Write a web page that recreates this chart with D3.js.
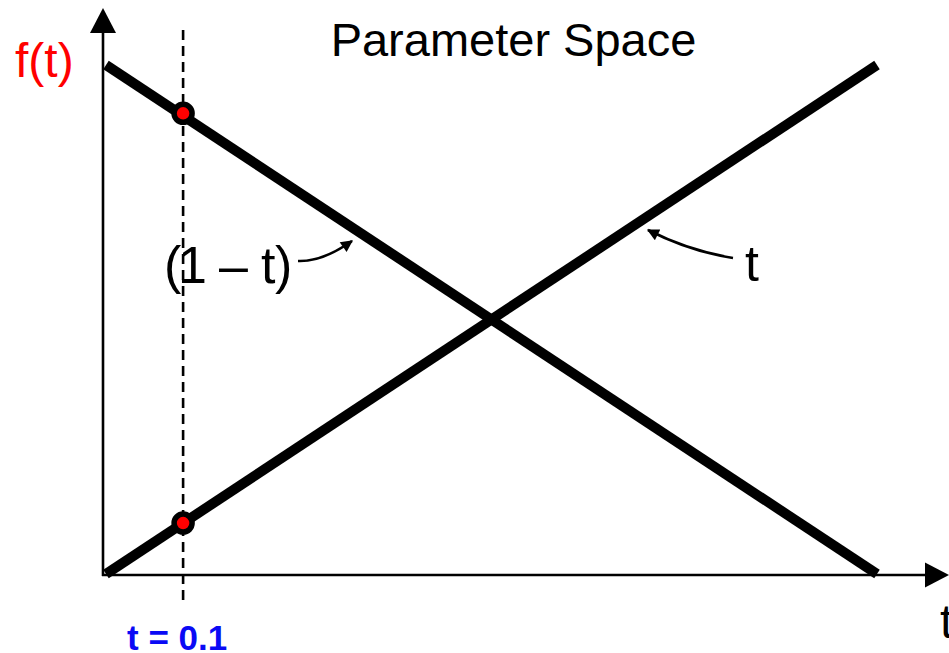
<!DOCTYPE html>
<html><head><meta charset="utf-8">
<script src="https://cdn.jsdelivr.net/npm/d3@7"></script>
<style>
html,body{margin:0;padding:0;background:#fff;}
svg{display:block;}
text{font-family:"Liberation Sans",Arial,sans-serif;}
</style></head>
<body>
<script>
// ---- data ----
const tValues = [0, 1];                 // parameter t at line ends
const seriesOneMinusT = [1, 0];         // f(t) = 1 - t
const seriesT = [0, 1];                 // f(t) = t
const markerT = [0.1, 0.1];             // sample parameter
const markerF = [0.905, 0.1];           // f values at sample
const titleText = "Parameter Space";
const yLabel = "f(t)";
const xLabel = "t";
const sampleLabel = "t = 0.1";

const W = 949, H = 653;
const svg = d3.select("body").append("svg").attr("width", W).attr("height", H);

const x = d3.scaleLinear().domain([0, 1]).range([106, 877]);
const y = d3.scaleLinear().domain([0, 1]).range([574, 65]);

// markers for arrows
const defs = svg.append("defs");
defs.append("marker").attr("id", "ah").attr("viewBox", "0 0 10 10")
  .attr("refX", 9).attr("refY", 5).attr("markerWidth", 15).attr("markerHeight", 12)
  .attr("markerUnits", "userSpaceOnUse").attr("orient", "auto")
  .append("path").attr("d", "M0,0 L10,5 L0,10 z").attr("fill", "#000");

// axes
const ax0 = 103, ay0 = 575;
svg.append("line").attr("x1", ax0).attr("y1", ay0 + 1).attr("x2", ax0).attr("y2", 30)
  .attr("stroke", "#000").attr("stroke-width", 2.6);
svg.append("path").attr("d", `M${ax0},8 L${ax0 + 13},33 L${ax0 - 13},33 Z`).attr("fill", "#000");
svg.append("line").attr("x1", ax0 - 1).attr("y1", ay0).attr("x2", 928).attr("y2", ay0)
  .attr("stroke", "#000").attr("stroke-width", 2.6);
svg.append("path").attr("d", `M949,${ay0} L925,${ay0 - 12.5} L925,${ay0 + 12.5} Z`).attr("fill", "#000");

// dashed line at sample t
svg.append("line").attr("x1", x(markerT[0])).attr("x2", x(markerT[0]))
  .attr("y1", 30).attr("y2", 601)
  .attr("stroke", "#000").attr("stroke-width", 2.6).attr("stroke-dasharray", "10,6");

// lines
const line = d3.line().x(d => x(d[0])).y(d => y(d[1]));
[seriesOneMinusT, seriesT].forEach(s => {
  svg.append("path").datum(tValues.map((t, i) => [t, s[i]]))
    .attr("d", line).attr("fill", "none").attr("stroke", "#000")
    .attr("stroke-width", 10).attr("stroke-linecap", "butt");
});

// sample points
svg.selectAll("circle.pt").data(markerT.map((t, i) => [t, markerF[i]])).enter()
  .append("circle").attr("class", "pt")
  .attr("cx", d => x(d[0])).attr("cy", d => y(d[1])).attr("r", 9)
  .attr("fill", "#ff0000").attr("stroke", "#000").attr("stroke-width", 5.5);

// title
svg.append("text").attr("x", 513.5).attr("y", 56).attr("text-anchor", "middle")
  .attr("font-size", 47).attr("fill", "#000").text(titleText);

// axis labels
svg.append("text").attr("x", 15).attr("y", 77).attr("font-size", 48)
  .attr("fill", "#ff0000").text(yLabel);
svg.append("text").attr("x", 940).attr("y", 638).attr("font-size", 48)
  .attr("fill", "#000").text(xLabel);
svg.append("text").attr("x", 127).attr("y", 650).attr("font-size", 35)
  .attr("font-weight", "bold").attr("fill", "#0a0af5").text(sampleLabel);

// line labels
const lab = svg.append("text").attr("y", 283).attr("font-size", 52).attr("fill", "#000");
lab.append("tspan").attr("x", 164).text("(");
lab.append("tspan").attr("x", 178).text("1");
lab.append("tspan").attr("x", 219).text("–");
lab.append("tspan").attr("x", 261).text("t");
lab.append("tspan").attr("x", 275).text(")");
svg.append("text").attr("x", 745).attr("y", 281).attr("font-size", 50)
  .attr("fill", "#000").text("t");

// curved pointer arrows
svg.append("path").attr("d", "M298,261 Q322,262 352,241")
  .attr("fill", "none").attr("stroke", "#000").attr("stroke-width", 2.6)
  .attr("marker-end", "url(#ah)");
svg.append("path").attr("d", "M733,258 Q689,251 648,230")
  .attr("fill", "none").attr("stroke", "#000").attr("stroke-width", 2.6)
  .attr("marker-end", "url(#ah)");
</script>
</body></html>
